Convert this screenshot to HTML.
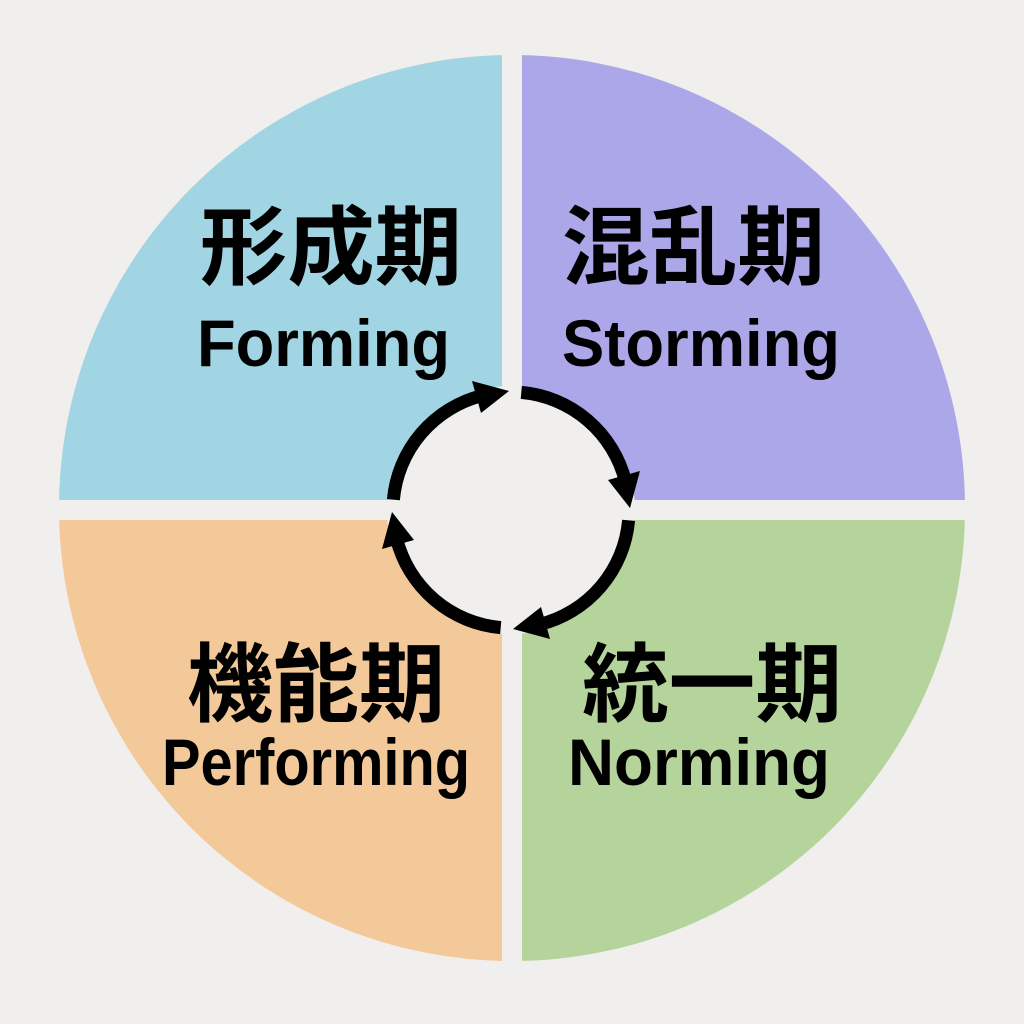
<!DOCTYPE html>
<html><head><meta charset="utf-8"><style>
html,body{margin:0;padding:0;background:#f0efed;}
svg{display:block}
</style></head><body>
<svg width="1024" height="1024" viewBox="0 0 1024 1024" xmlns="http://www.w3.org/2000/svg">
<rect width="1024" height="1024" fill="#f0efed"/>
<defs><clipPath id="c"><circle cx="512" cy="508" r="453"/></clipPath></defs>
<g clip-path="url(#c)">
<rect x="0" y="0" width="502" height="500" fill="#a2d5e3"/>
<rect x="522" y="0" width="502" height="500" fill="#aca7e8"/>
<rect x="0" y="520" width="502" height="504" fill="#f4c99a"/>
<rect x="522" y="520" width="502" height="504" fill="#b5d49c"/>
</g>
<circle cx="511" cy="510" r="124" fill="#f0efed"/>
<rect x="502" y="370" width="20" height="280" fill="#f0efed"/>
<rect x="370" y="500" width="280" height="20" fill="#f0efed"/>
<g id="a">
<path d="M521.3,392.4 A118,118 0 0 1 625.5,481.5" fill="none" stroke="#000" stroke-width="13"/>
<polygon points="608,480 640,471 630,508" fill="#000"/>
</g>
<use href="#a" transform="rotate(90 511 510)"/>
<use href="#a" transform="rotate(180 511 510)"/>
<use href="#a" transform="rotate(270 511 510)"/>
<g font-family="'Liberation Sans','Noto Sans CJK JP',sans-serif" font-weight="bold" fill="#000">
<text x="200" y="240" font-size="86" dominant-baseline="central" textLength="262" lengthAdjust="spacingAndGlyphs" font-family="'Noto Sans CJK JP',sans-serif">形成期</text>
<text x="197" y="366" font-size="66" textLength="253" lengthAdjust="spacingAndGlyphs">Forming</text>
<text x="562" y="240" font-size="86" dominant-baseline="central" textLength="263" lengthAdjust="spacingAndGlyphs" font-family="'Noto Sans CJK JP',sans-serif">混乱期</text>
<text x="562" y="366" font-size="66" textLength="278" lengthAdjust="spacingAndGlyphs">Storming</text>
<text x="187" y="677" font-size="86" dominant-baseline="central" textLength="258" lengthAdjust="spacingAndGlyphs" font-family="'Noto Sans CJK JP',sans-serif">機能期</text>
<text x="162" y="785" font-size="66" textLength="308" lengthAdjust="spacingAndGlyphs">Performing</text>
<text x="582" y="677" font-size="86" dominant-baseline="central" textLength="260" lengthAdjust="spacingAndGlyphs" font-family="'Noto Sans CJK JP',sans-serif">統一期</text>
<text x="568" y="785" font-size="66" textLength="262" lengthAdjust="spacingAndGlyphs">Norming</text>
</g>
</svg>
</body></html>
